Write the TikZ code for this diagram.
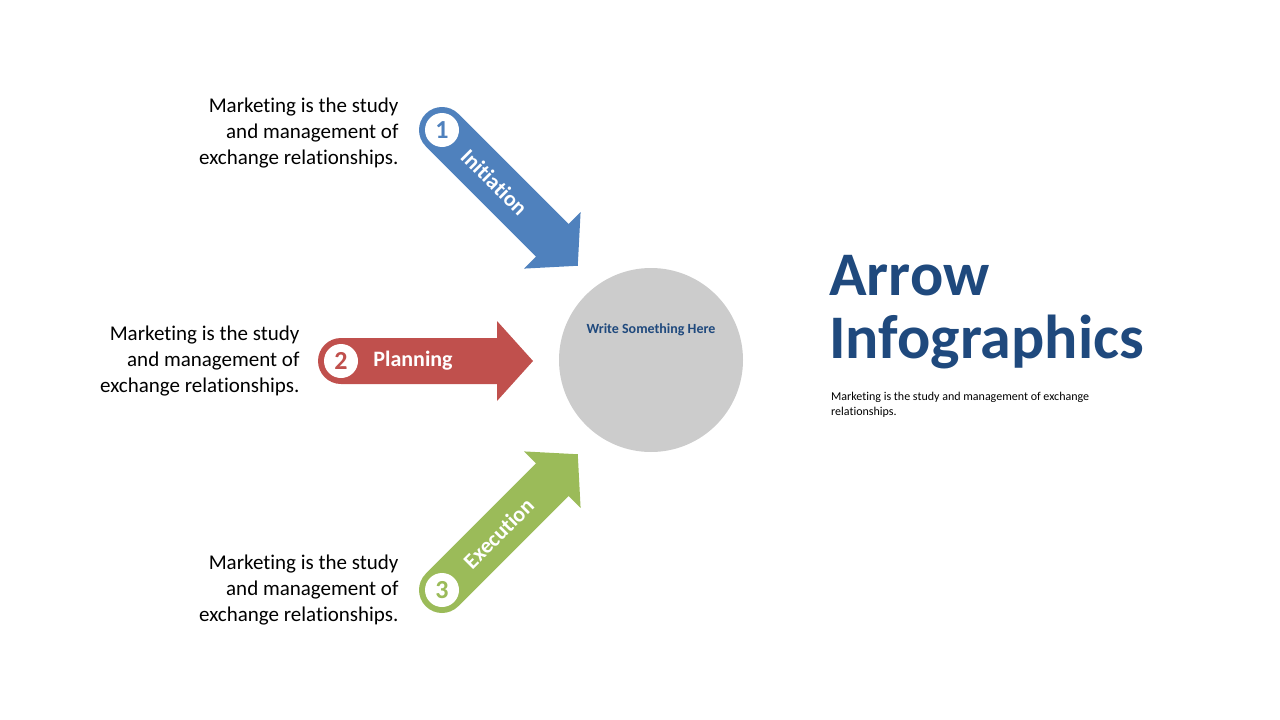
\documentclass[tikz,border=0pt]{standalone}
\usepackage{fontspec}
\setmainfont{Carlito}[RawFeature=-liga]
\definecolor{ablue}{HTML}{4F81BD}
\definecolor{ared}{HTML}{C0504D}
\definecolor{agreen}{HTML}{9BBB59}
\definecolor{titleblue}{HTML}{1F497D}
\definecolor{disc}{HTML}{CCCCCC}
\tikzset{
  desc/.style={align=right,anchor=east,font=\fontsize{21}{26}\selectfont},
  steplbl/.style={text=white,font=\fontsize{22}{24}\selectfont\bfseries},
  stepnum/.style={circle,fill=white,minimum size=34pt,inner sep=0pt,font=\fontsize{26}{26}\selectfont\bfseries}
}
% arrow in local frame: origin at the number disc
\newcommand{\infarrow}[1]{%
  \fill[#1] (0,-23) -- (156,-23) -- (156,-40) -- (192,0) -- (156,40) -- (156,23) -- (0,23) arc(90:270:23) -- cycle;}
\begin{document}
\begin{tikzpicture}[x=1pt,y=-1pt]
\useasboundingbox (0,0) rectangle (1280,720);
\node[desc] (t1) at (402,133) {Marketing is the study\\and management of\\exchange relationships.};
\node[desc] (t2) at (303,361) {Marketing is the study\\and management of\\exchange relationships.};
\node[desc] (t3) at (402,590) {Marketing is the study\\and management of\\exchange relationships.};
\begin{scope}[shift={(442,130)},rotate=-45]
\infarrow{ablue}
\node[stepnum,text=ablue] (n1) at (0,0) {1};
\node[steplbl,rotate=-45] (s1) at (74,0) {Initiation};
\end{scope}
\begin{scope}[shift={(341,361)}]
\infarrow{ared}
\node[stepnum,text=ared] (n2) at (0,0) {2};
\node[steplbl] (s2) at (72,0) {Planning};
\end{scope}
\begin{scope}[shift={(442,590)},rotate=45]
\infarrow{agreen}
\node[stepnum,text=agreen] (n3) at (0,0) {3};
\node[steplbl,rotate=45] (s3) at (80,0) {Execution};
\end{scope}
\fill[disc] (651,360) circle (92);
\node[text=titleblue,font=\fontsize{14}{14}\selectfont\bfseries] (w) at (651,330) {Write Something Here};
\node[anchor=base west,inner sep=0pt,text=titleblue,font=\fontsize{62}{62}\selectfont\bfseries] (title1) at (829,295) {Arrow};
\node[anchor=base west,inner sep=0pt,text=titleblue,font=\fontsize{62}{62}\selectfont\bfseries] (title2) at (829,358) {Infographics};
\node[anchor=north west,inner sep=0pt,align=left,font=\fontsize{12}{15}\selectfont] (sub) at (831,392) {Marketing is the study and management of exchange\\relationships.};
\end{tikzpicture}
\end{document}
